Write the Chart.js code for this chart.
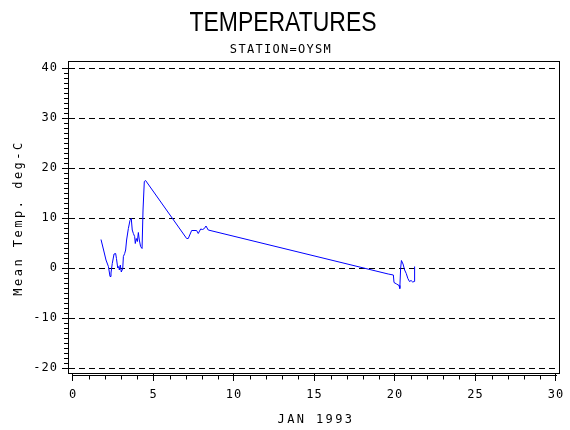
<!DOCTYPE html>
<html>
<head>
<meta charset="utf-8">
<script src="https://cdn.jsdelivr.net/npm/chart.js@4/dist/chart.umd.min.js"></script>
<style>
html,body{margin:0;padding:0;background:#fff;}
canvas{display:block;}
</style>
</head>
<body>
<canvas id="c" width="570" height="430"></canvas>
<script>
// ---- data (day of January 1993, mean temperature deg C) ----
const days = [1.74,1.9,2.05,2.2,2.3,2.36,2.44,2.55,2.65,2.7,2.78,2.84,2.88,2.94,3.0,3.09,3.13,3.21,3.27,3.33,3.44,3.54,3.62,3.68,3.75,3.83,3.87,3.93,4.0,4.06,4.12,4.2,4.29,4.35,4.43,4.51,
  7.06,7.16,7.37,7.68,7.78,7.93,8.05,8.16,8.26,8.4,
  19.58,19.9,19.94,20.1,20.25,20.3,20.35,20.4,20.5,20.6,20.7,20.8,20.9,21.0,21.1,21.2,21.22];
const temps = [5.7,3.6,1.6,0.3,-1.7,-1.0,0.9,2.8,2.9,1.9,0.0,0.3,-0.4,0.6,-0.8,-0.1,2.3,2.9,3.6,5.6,7.9,9.5,9.9,7.6,6.9,6.3,4.9,5.9,5.3,7.1,5.6,4.3,3.9,11.6,17.3,17.5,
  5.9,5.9,7.5,7.5,6.9,7.8,7.7,7.9,8.4,7.6,
  -1.2,-1.4,-2.9,-3.2,-3.5,-4.1,-0.1,1.5,0.8,-0.4,-1.1,-2.1,-2.7,-2.5,-2.8,-2.7,0.3];
const xTicks = [0,5,10,15,20,25,30];
const yTicks = [-20,-10,0,10,20,30,40];
const titleText = 'TEMPERATURES';
const subtitleText = 'STATION=OYSM';
const xTitle = 'JAN 1993';
const yTitle = 'Mean Temp. deg-C';

const MONO = '"DejaVu Sans Mono", "Liberation Mono", monospace';

const decor = {
  id: 'decor',
  beforeDraw(chart) {
    chart.ctx.letterSpacing = '1px';
  },
  afterDraw(chart) {
    const ctx = chart.ctx;
    const a = chart.chartArea;
    const xs = chart.scales.x, ys = chart.scales.y;
    ctx.save();
    ctx.letterSpacing = '0px';
    ctx.strokeStyle = '#000';
    ctx.lineWidth = 1;
    // frame
    ctx.strokeRect(Math.round(a.left) + 0.5, Math.round(a.top) + 0.5,
                   Math.round(a.right - a.left) - 1, Math.round(a.bottom - a.top));
    // x axis line (below frame)
    const xa = Math.round(a.bottom) + 2.5;
    ctx.beginPath();
    ctx.moveTo(Math.round(xs.getPixelForValue(xTicks[0])), xa);
    ctx.lineTo(Math.round(xs.getPixelForValue(xTicks[xTicks.length-1])) + 1, xa);
    // x minor ticks
    for (let v = xTicks[0]; v <= xTicks[xTicks.length-1]; v++) {
      if (v % 5 === 0) continue;
      const p = Math.round(xs.getPixelForValue(v)) + 0.5;
      ctx.moveTo(p, xa); ctx.lineTo(p, xa + 4);
    }
    // y minor ticks
    for (let v = yTicks[0]; v <= yTicks[yTicks.length-1]; v++) {
      if (v % 10 === 0) continue;
      const p = Math.round(ys.getPixelForValue(v)) + 0.5;
      ctx.moveTo(a.left - 4, p); ctx.lineTo(a.left, p);
    }
    ctx.stroke();

    ctx.fillStyle = '#000';
    // main title (condensed)
    ctx.save();
    ctx.font = '28px "Liberation Sans", Arial, sans-serif';
    ctx.textAlign = 'center';
    ctx.textBaseline = 'alphabetic';
    ctx.translate(283, 31);
    ctx.scale(0.82, 1);
    ctx.fillText(titleText, 0, 0);
    ctx.restore();
    // subtitle
    ctx.font = '12px ' + MONO;
    ctx.letterSpacing = '1.3px';
    ctx.textAlign = 'center';
    ctx.fillText(subtitleText, 281, 53);
    // x title
    ctx.letterSpacing = '2.4px';
    ctx.fillText(xTitle, 316, 423);
    // y title
    ctx.save();
    ctx.translate(22, 218);
    ctx.rotate(-Math.PI / 2);
    ctx.letterSpacing = '2.5px';
    ctx.fillText(yTitle, 0, 0);
    ctx.restore();
    ctx.restore();
  }
};

new Chart(document.getElementById('c'), {
  type: 'line',
  data: {
    datasets: [{
      data: days.map((d, i) => ({x: d, y: temps[i]})),
      borderColor: '#0000ff',
      borderWidth: 1,
      pointRadius: 0,
      tension: 0,
      fill: false
    }]
  },
  options: {
    responsive: false,
    animation: false,
    devicePixelRatio: 1,
    layout: {padding: {left: 0, right: 10, top: 61, bottom: 0}},
    plugins: {legend: {display: false}, tooltip: {enabled: false}, title: {display: false}},
    scales: {
      x: {
        type: 'linear',
        min: -0.31, max: 30.25,
        afterBuildTicks: s => { s.ticks = xTicks.map(v => ({value: v})); },
        afterFit: s => { s.height = 57; s.paddingLeft = 0; s.paddingRight = 0; },
        grid: {drawOnChartArea: false, drawTicks: true, tickLength: 8, color: '#000', tickColor: '#000'},
        border: {display: false},
        ticks: {color: '#000', font: {family: MONO, size: 12}, padding: 7, maxRotation: 0, autoSkip: false,
                callback: v => String(v)}
      },
      y: {
        type: 'linear',
        min: -21, max: 41.4,
        afterBuildTicks: s => { s.ticks = yTicks.map(v => ({value: v})); },
        afterFit: s => { s.width = 68; },
        grid: {drawOnChartArea: true, drawTicks: true, tickLength: 6, color: '#000', tickColor: '#000', lineWidth: 1},
        border: {display: true, color: '#000', width: 1, dash: [6, 4]},
        ticks: {color: '#000', font: {family: MONO, size: 12}, padding: 4, autoSkip: false,
                callback: v => String(v)}
      }
    }
  },
  plugins: [decor]
});
</script>
</body>
</html>
